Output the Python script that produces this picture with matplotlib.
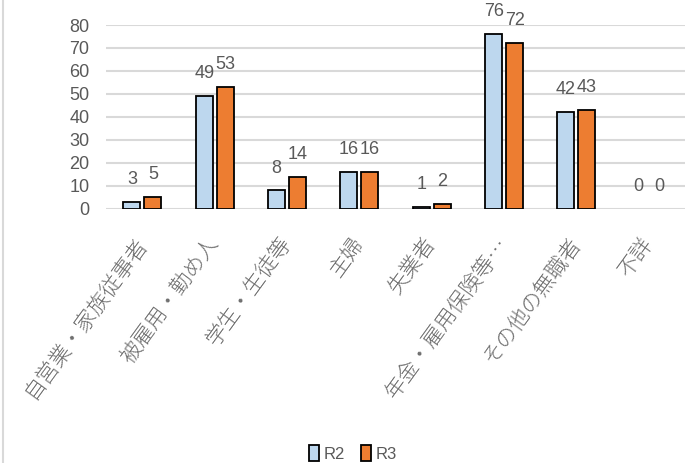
import matplotlib
matplotlib.use("Agg")
import matplotlib.pyplot as plt
import numpy as np
from matplotlib.patches import Rectangle
from matplotlib.lines import Line2D

plt.rcParams['font.family'] = ['Noto Sans CJK JP', 'DejaVu Sans']

categories = ["自営業・家族従事者", "被雇用・勤め人", "学生・生徒等", "主婦",
              "失業者", "年金・雇用保険等…", "その他の無職者", "不詳"]
r2 = [3, 49, 8, 16, 1, 76, 42, 0]
r3 = [5, 53, 14, 16, 2, 72, 43, 0]
series_names = ["R2", "R3"]
yticks = [0, 10, 20, 30, 40, 50, 60, 70, 80]

c_r2 = "#BDD7EE"
c_r3 = "#ED7D31"
txt = "#595959"
num_font = ["Liberation Sans", "DejaVu Sans"]

fig = plt.figure(figsize=(6.85, 4.63), dpi=100)
ax = fig.add_axes([0.155, 0.549, 0.845, 0.397])

x = np.arange(len(categories))
w = 0.235
gap = 0.055
lw1 = [1.3 if v > 0 else 0 for v in r2]
lw2 = [1.3 if v > 0 else 0 for v in r3]
b1 = ax.bar(x - w / 2 - gap / 2, r2, w, color=c_r2, edgecolor="black", linewidth=lw1, zorder=3)
b2 = ax.bar(x + w / 2 + gap / 2, r3, w, color=c_r3, edgecolor="black", linewidth=lw2, zorder=3)

for bars, vals in ((b1, r2), (b2, r3)):
    for b, v in zip(bars, vals):
        ax.annotate(str(v), (b.get_x() + b.get_width() / 2, v), xytext=(0, 10),
                    textcoords="offset points", ha="center", va="bottom",
                    fontsize=13, color=txt, family=num_font)

ax.set_xlim(-0.5, len(categories) - 0.5)
ax.set_ylim(0, 80)
ax.set_yticks(yticks)
ax.set_yticklabels([str(t) for t in yticks], fontsize=13, color=txt, family=num_font)
ax.grid(axis="y", color="#D9D9D9", linewidth=1.5, zorder=0)
ax.set_axisbelow(True)
for s in ax.spines.values():
    s.set_visible(False)
ax.tick_params(axis="both", length=0)
ax.tick_params(axis="y", pad=12)

ax.set_xticks(x)
ax.set_xticklabels(categories, rotation=54, ha="right", va="center", rotation_mode="anchor",
                   fontsize=15.5, color="#6E6E6E", fontweight="light")
ax.tick_params(axis="x", pad=22)

handles = [Rectangle((0, 0), 1, 1, facecolor=c_r2, edgecolor="black", linewidth=1.3),
           Rectangle((0, 0), 1, 1, facecolor=c_r3, edgecolor="black", linewidth=1.3)]
fig.legend(handles, series_names, loc="lower center", bbox_to_anchor=(0.515, -0.03), ncol=2,
           frameon=False, handlelength=0.6, handleheight=1.1, handletextpad=0.25,
           columnspacing=1.0, prop={"family": num_font, "size": 12},
           labelcolor=txt)

fig.add_artist(Line2D([0.005, 0.005], [0, 1], transform=fig.transFigure, color="#D9D9D9", linewidth=1.5))

fig.savefig("out.png", dpi=100)
